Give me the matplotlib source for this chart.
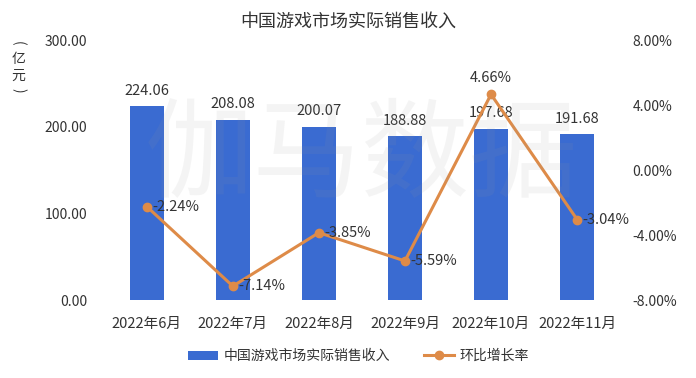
import matplotlib
matplotlib.use("Agg")
import matplotlib.pyplot as plt
from matplotlib.ticker import FuncFormatter

plt.rcParams['font.family'] = ['Noto Sans CJK SC', 'DejaVu Sans']

categories = ["2022年6月", "2022年7月", "2022年8月", "2022年9月", "2022年10月", "2022年11月"]
revenue = [224.06, 208.08, 200.07, 188.88, 197.68, 191.68]
growth = [-2.24, -7.14, -3.85, -5.59, 4.66, -3.04]
left_ticks = [0, 100, 200, 300]
right_ticks = [-8, -4, 0, 4, 8]

bar_color = "#3A6BD1"
line_color = "#DE8B48"
text_color = "#333333"

fig = plt.figure(figsize=(6.96, 3.78), dpi=100)
ax = fig.add_axes([0.149, 0.206, 0.742, 0.688])
ax2 = ax.twinx()

x = list(range(len(categories)))
ax.bar(x, revenue, width=0.4, color=bar_color, zorder=2, label="中国游戏市场实际销售收入")
ax.set_xlim(-0.5, len(categories) - 0.5)
ax.set_ylim(0, 300)
ax.set_yticks(left_ticks)
ax.yaxis.set_major_formatter(FuncFormatter(lambda v, p: f"{v:.2f}"))
ax.set_xticks(x)
ax.set_xticklabels(categories)

for xi, v in zip(x, revenue):
    ax.annotate(f"{v:.2f}", (xi, v), xytext=(0, 6), textcoords="offset points",
                ha="center", va="bottom", fontsize=10.5, color=text_color)

ax2.plot(x, growth, color=line_color, lw=2.2, marker="o", markersize=6,
         zorder=3, label="环比增长率")
ax2.set_ylim(-8, 8)
ax2.set_yticks(right_ticks)
ax2.yaxis.set_major_formatter(FuncFormatter(lambda v, p: f"{v:.2f}%"))

for xi, v in zip(x, growth):
    if v > 0:
        ax2.annotate(f"{v:.2f}%", (xi, v), xytext=(0, 7), textcoords="offset points",
                     ha="center", va="bottom", fontsize=10.5, color=text_color)
    else:
        ax2.annotate(f"{v:.2f}%", (xi, v), xytext=(4, 0), textcoords="offset points",
                     ha="left", va="center", fontsize=10.5, color=text_color)

for a in (ax, ax2):
    for s in a.spines.values():
        s.set_visible(False)
    a.tick_params(length=0, labelsize=10, colors=text_color)
ax.tick_params(axis="y", pad=12)
ax2.tick_params(axis="y", pad=9)
ax.tick_params(axis="x", pad=12, labelsize=10.5)

fig.text(0.5, 0.942, "中国游戏市场实际销售收入", ha="center", va="center",
         fontsize=13, color=text_color)

# vertical unit label（亿元）
fig.text(0.026, 0.885, "(", ha="center", va="center", fontsize=10, rotation=-90, color=text_color)
fig.text(0.026, 0.845, "亿", ha="center", va="center", fontsize=10, color=text_color)
fig.text(0.026, 0.800, "元", ha="center", va="center", fontsize=10, color=text_color)
fig.text(0.026, 0.762, ")", ha="center", va="center", fontsize=10, rotation=-90, color=text_color)

# faint watermark
fig.text(0.52, 0.58, "伽马数据", ha="center", va="center", fontsize=78,
         color="#999999", alpha=0.10, zorder=10)

h1, l1 = ax.get_legend_handles_labels()
h2, l2 = ax2.get_legend_handles_labels()
fig.legend(h1 + h2, l1 + l2, loc="center", bbox_to_anchor=(0.515, 0.058), ncol=2,
           frameon=False, fontsize=10, handlelength=2.2, handleheight=0.6,
           handletextpad=0.4, columnspacing=2.4, labelcolor=text_color)

fig.savefig("out.png", dpi=100)
